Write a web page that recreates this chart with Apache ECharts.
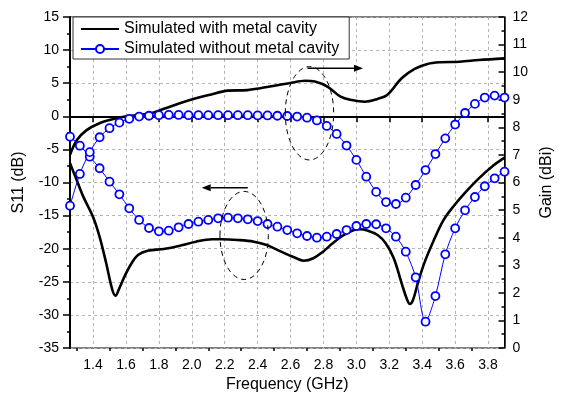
<!DOCTYPE html>
<html>
<head>
<meta charset="utf-8">
<script src="https://cdn.jsdelivr.net/npm/echarts@6/dist/echarts.min.js"></script>
<style>
  html, body { margin: 0; padding: 0; background: #fff; }
  #chart { width: 563px; height: 403px; }
</style>
</head>
<body>
<div id="chart"></div>
<script>
const FONT = '"Liberation Sans", Arial, Helvetica, sans-serif';

// Axis ticks
const freqTicks = [1.4, 1.6, 1.8, 2.0, 2.2, 2.4, 2.6, 2.8, 3.0, 3.2, 3.4, 3.6, 3.8];
const freqMinorTicks = [1.3, 1.5, 1.7, 1.9, 2.1, 2.3, 2.5, 2.7, 2.9, 3.1, 3.3, 3.5, 3.7];

// Simulated with metal cavity: S11 (dB)
const cavS11Freq = [1.26, 1.30, 1.34, 1.40, 1.44, 1.48, 1.517, 1.537, 1.556, 1.595, 1.634, 1.673, 1.732, 1.83, 1.927, 2.025, 2.123, 2.181, 2.279, 2.377, 2.455, 2.543, 2.621, 2.68, 2.738, 2.797, 2.856, 2.914, 2.973, 3.021, 3.07, 3.129, 3.178, 3.227, 3.275, 3.305, 3.325, 3.344, 3.373, 3.412, 3.471, 3.53, 3.588, 3.666, 3.744, 3.823, 3.9];
const cavS11 = [-7.1, -9.6, -12.1, -15.2, -18.2, -22.2, -26.2, -27.1, -26.2, -24.0, -22.2, -20.95, -20.3, -20.05, -19.55, -18.94, -18.58, -18.58, -18.69, -18.94, -19.44, -20.45, -21.3, -21.81, -21.45, -20.45, -19.18, -18.08, -17.28, -17.07, -17.28, -17.93, -19.18, -21.45, -25.23, -27.49, -28.35, -27.75, -25.23, -22.21, -18.69, -15.66, -13.66, -11.39, -9.37, -7.61, -6.25];

// Simulated with metal cavity: gain (dBi)
const cavGainFreq = [1.26, 1.302, 1.361, 1.439, 1.517, 1.595, 1.673, 1.751, 1.83, 1.927, 2.025, 2.103, 2.22, 2.337, 2.416, 2.494, 2.592, 2.689, 2.748, 2.826, 2.904, 2.973, 3.051, 3.129, 3.187, 3.275, 3.354, 3.432, 3.51, 3.627, 3.744, 3.9];
const cavGain = [7.0, 7.54, 7.9, 8.15, 8.29, 8.39, 8.45, 8.51, 8.67, 8.87, 9.05, 9.17, 9.33, 9.35, 9.42, 9.5, 9.6, 9.69, 9.66, 9.47, 9.11, 8.99, 8.93, 9.03, 9.17, 9.78, 10.12, 10.3, 10.36, 10.38, 10.44, 10.5];

// Simulated without metal cavity: sampled frequencies (GHz)
const openFreq = [1.26, 1.32, 1.38, 1.44, 1.50, 1.56, 1.62, 1.68, 1.74, 1.80, 1.86, 1.92, 1.98, 2.04, 2.10, 2.16, 2.22, 2.28, 2.34, 2.40, 2.46, 2.52, 2.58, 2.64, 2.70, 2.76, 2.82, 2.88, 2.94, 3.00, 3.06, 3.12, 3.18, 3.24, 3.30, 3.36, 3.42, 3.48, 3.54, 3.60, 3.66, 3.72, 3.78, 3.84, 3.90];
const openS11 = [-3.08, -4.44, -6.10, -7.85, -9.88, -11.78, -13.90, -15.66, -16.87, -17.37, -17.28, -16.77, -16.27, -15.92, -15.66, -15.41, -15.32, -15.41, -15.56, -15.82, -16.27, -16.68, -17.18, -17.67, -18.08, -18.34, -18.19, -17.78, -17.18, -16.57, -16.27, -16.31, -16.92, -18.19, -20.45, -24.32, -31.03, -27.15, -20.85, -16.92, -14.20, -12.19, -10.57, -9.37, -8.37];
const openGain = [5.16, 6.31, 7.10, 7.64, 7.97, 8.17, 8.31, 8.39, 8.42, 8.44, 8.45, 8.45, 8.44, 8.44, 8.44, 8.44, 8.44, 8.44, 8.44, 8.43, 8.43, 8.42, 8.41, 8.39, 8.35, 8.25, 8.05, 7.76, 7.34, 6.82, 6.21, 5.66, 5.29, 5.22, 5.45, 5.91, 6.45, 7.03, 7.60, 8.10, 8.52, 8.85, 9.08, 9.15, 9.08];

const LEG_WITH = 'Simulated with metal cavity';
const LEG_WITHOUT = 'Simulated without metal cavity';

// Callout ellipses and arrows, in (GHz, dB) units
const gainEllipse = { cx: 2.715, cy: 0.45, rx: 0.147, ry: 7.05 };
const s11Ellipse = { cx: 2.318, cy: -18.0, rx: 0.147, ry: 6.65 };
const gainArrow = { from: [2.703, 7.25], to: [3.04, 7.25] };
const s11Arrow = { from: [2.34, -10.8], to: [2.06, -10.8] };

const zip = (xs, ys) => xs.map((x, i) => [x, ys[i]]);

const chart = echarts.init(document.getElementById('chart'), null, { renderer: 'canvas' });

const tickLabel = { color: '#000', fontSize: 14, fontFamily: FONT };
const gridLine = { show: true, lineStyle: { color: '#b4b4b4', width: 1, type: [3, 3] } };
const noMarker = { color: 'rgba(0,0,0,0)', borderWidth: 0 };

chart.setOption({
  animation: false,
  backgroundColor: '#fff',
  textStyle: { fontFamily: FONT },
  grid: { left: 70, top: 17, right: 44, bottom: 55, show: true, borderColor: '#000', borderWidth: 1, backgroundColor: 'transparent' },
  legend: {
    left: 73, top: 17, orient: 'vertical',
    padding: [4, 10, 2, 7], itemGap: 4, itemWidth: 38, itemHeight: 10,
    borderColor: '#333', borderWidth: 1, backgroundColor: '#fff',
    selectedMode: false,
    textStyle: { fontSize: 16, color: '#000', fontFamily: FONT },
    data: [{ name: LEG_WITH, itemStyle: noMarker }, { name: LEG_WITHOUT }]
  },
  xAxis: [
    {
      type: 'value', position: 'bottom', min: 1.26, max: 3.9,
      name: 'Frequency (GHz)', nameLocation: 'middle', nameGap: 24,
      nameTextStyle: { color: '#000', fontSize: 16, fontFamily: FONT },
      axisLine: { show: true, lineStyle: { color: '#000', width: 2 } },
      axisTick: { show: true, inside: false, length: 6, customValues: freqTicks, lineStyle: { color: '#000', width: 1.5 } },
      axisLabel: Object.assign({ margin: 10, customValues: freqTicks, formatter: v => v.toFixed(1) }, tickLabel),
      splitLine: gridLine
    },
    {
      type: 'value', position: 'bottom', min: 1.26, max: 3.9,
      axisLine: { show: false },
      axisTick: { show: true, inside: false, length: 3, customValues: freqMinorTicks, lineStyle: { color: '#000', width: 1.5 } },
      axisLabel: { show: false },
      splitLine: { show: false }
    }
  ],
  yAxis: [
    {
      type: 'value', position: 'left', min: -35, max: 15, interval: 5,
      name: 'S11 (dB)', nameLocation: 'middle', nameGap: 43, nameRotate: 90,
      nameTextStyle: { color: '#000', fontSize: 16, fontFamily: FONT },
      axisLine: { show: true, lineStyle: { color: '#000', width: 2 } },
      axisTick: { show: true, inside: false, length: 7, lineStyle: { color: '#000', width: 1.5 } },
      minorTick: { show: true, splitNumber: 2, length: 3, lineStyle: { color: '#000', width: 1.5 } },
      axisLabel: Object.assign({ margin: 11 }, tickLabel),
      splitLine: gridLine
    },
    {
      type: 'value', position: 'right', min: 0, max: 12, interval: 1,
      name: 'Gain (dBi)', nameLocation: 'middle', nameGap: 26, nameRotate: 90,
      nameTextStyle: { color: '#000', fontSize: 16, fontFamily: FONT },
      axisLine: { show: true, lineStyle: { color: '#000', width: 1.5 } },
      axisTick: { show: true, inside: true, length: 6, lineStyle: { color: '#000', width: 1.5 } },
      minorTick: { show: true, splitNumber: 2, length: 3, lineStyle: { color: '#000', width: 1.5 } },
      axisLabel: Object.assign({ margin: 8 }, tickLabel),
      splitLine: { show: false }
    }
  ],
  series: [
    {
      name: LEG_WITH, type: 'line', xAxisIndex: 0, yAxisIndex: 0, z: 2,
      data: zip(cavS11Freq, cavS11), smooth: 0.35, symbol: 'none',
      lineStyle: { color: '#000', width: 2.6 }, itemStyle: noMarker
    },
    {
      name: LEG_WITH, type: 'line', xAxisIndex: 0, yAxisIndex: 1, z: 2,
      data: zip(cavGainFreq, cavGain), smooth: 0.35, symbol: 'none',
      lineStyle: { color: '#000', width: 2.6 }, itemStyle: noMarker
    },
    {
      name: LEG_WITHOUT, type: 'line', xAxisIndex: 0, yAxisIndex: 0, z: 3,
      data: zip(openFreq, openS11), smooth: 0.3,
      symbol: 'circle', symbolSize: 8,
      lineStyle: { color: '#0000ff', width: 1 },
      itemStyle: { color: '#fff', borderColor: '#0000ff', borderWidth: 1.8 }
    },
    {
      name: LEG_WITHOUT, type: 'line', xAxisIndex: 0, yAxisIndex: 1, z: 3,
      data: zip(openFreq, openGain), smooth: 0.3,
      symbol: 'circle', symbolSize: 8,
      lineStyle: { color: '#0000ff', width: 1 },
      itemStyle: { color: '#fff', borderColor: '#0000ff', borderWidth: 1.8 }
    }
  ]
});

// Dashed callouts and direction arrows, placed through the data coordinate system
const toPx = p => chart.convertToPixel({ xAxisIndex: 0, yAxisIndex: 0 }, p);

function ellipseGraphic(e) {
  const c = toPx([e.cx, e.cy]);
  const ex = toPx([e.cx + e.rx, e.cy]);
  const ey = toPx([e.cx, e.cy + e.ry]);
  return {
    type: 'ellipse', z: 50,
    shape: { cx: c[0], cy: c[1], rx: Math.abs(ex[0] - c[0]), ry: Math.abs(c[1] - ey[1]) },
    style: { fill: null, stroke: '#000', lineWidth: 1, lineDash: [5, 4] }
  };
}

function arrowGraphics(a) {
  const p0 = toPx(a.from), p1 = toPx(a.to);
  const dir = Math.sign(p1[0] - p0[0]);
  const headLen = 9, headHalf = 3.5;
  const base = p1[0] - dir * headLen;
  return [
    { type: 'line', z: 50, shape: { x1: p0[0], y1: p0[1], x2: base, y2: p1[1] }, style: { stroke: '#000', lineWidth: 1.5 } },
    { type: 'polygon', z: 50, shape: { points: [[p1[0], p1[1]], [base, p1[1] - headHalf], [base, p1[1] + headHalf]] }, style: { fill: '#000' } }
  ];
}

chart.setOption({
  graphic: [ellipseGraphic(gainEllipse), ellipseGraphic(s11Ellipse)]
    .concat(arrowGraphics(gainArrow), arrowGraphics(s11Arrow))
});
</script>
</body>
</html>
